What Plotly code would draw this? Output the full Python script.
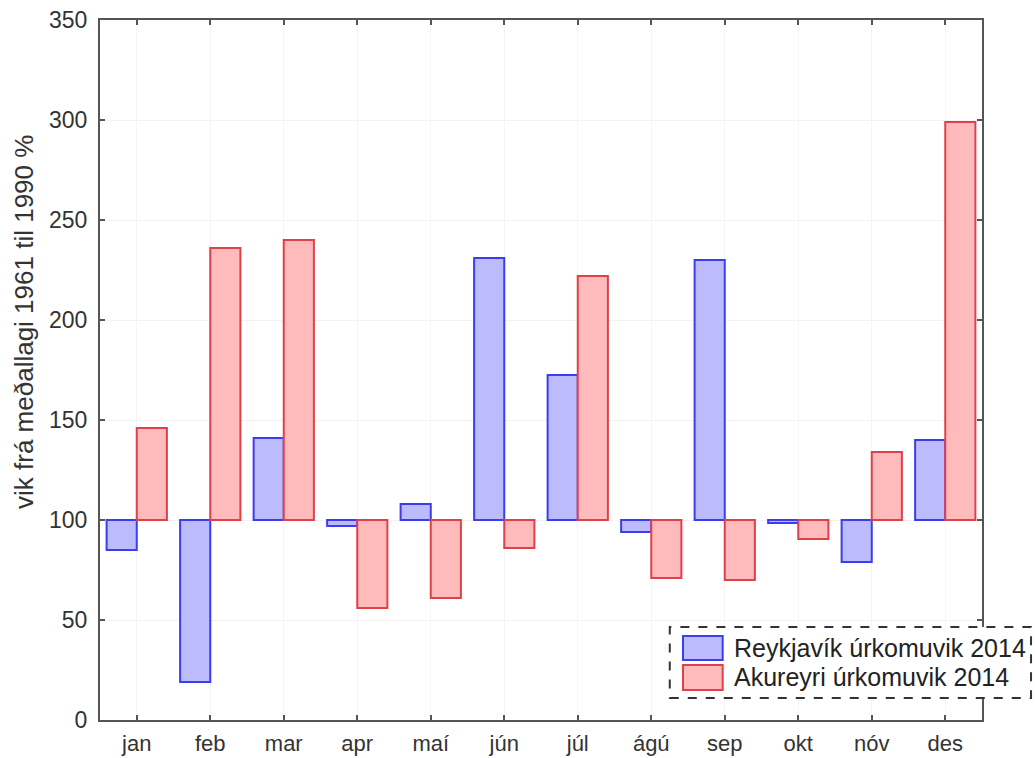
import plotly.graph_objects as go

months = ["jan", "feb", "mar", "apr", "maí", "jún", "júl", "ágú", "sep", "okt", "nóv", "des"]
reykjavik = [85, 19, 141, 97, 108, 231, 172.5, 94, 230, 98.5, 79, 140]
akureyri = [146, 236, 240, 56, 61, 86, 222, 71, 70, 90.5, 134, 299]
baseline = 100
name_rvk = "Reykjavík úrkomuvik 2014"
name_ak = "Akureyri úrkomuvik 2014"
y_title = "vik frá meðallagi 1961 til 1990 %"
y_ticks = [0, 50, 100, 150, 200, 250, 300, 350]

blue_fill = "rgba(188,188,252,1)"
blue_line = "#3c3cf0"
red_fill = "rgba(255,187,187,1)"
red_line = "#e0404a"

fig = go.Figure()
fig.add_trace(go.Bar(x=months, y=[v - baseline for v in reykjavik], base=baseline,
                     name=name_rvk, marker=dict(color=blue_fill, line=dict(color=blue_line, width=2))))
fig.add_trace(go.Bar(x=months, y=[v - baseline for v in akureyri], base=baseline,
                     name=name_ak, marker=dict(color=red_fill, line=dict(color=red_line, width=2))))

font_fam = "Liberation Sans, Arial, sans-serif"
fig.update_layout(
    width=1035, height=758,
    margin=dict(l=100, r=53, t=20, b=38),
    paper_bgcolor="white", plot_bgcolor="white",
    barmode="group", bargap=0.18, bargroupgap=0,
    showlegend=False,
    font=dict(family=font_fam, size=22, color="#333333"),
)
fig.update_xaxes(
    range=[-0.5, 11.5], showline=True, linecolor="#555555", linewidth=2, mirror="ticks",
    ticks="inside", ticklen=5, tickcolor="#555555", tickwidth=1.5,
    showgrid=True, gridcolor="#f5f5f5", gridwidth=1, automargin=False,
    tickfont=dict(size=22, color="#333333"), ticklabelstandoff=3,
)
fig.update_yaxes(
    range=[0, 350], tickvals=y_ticks, showline=True, linecolor="#555555", linewidth=2, mirror="ticks",
    ticks="inside", ticklen=5, tickcolor="#555555", tickwidth=1.5,
    showgrid=True, gridcolor="#f2f2f2", gridwidth=1, zeroline=False, automargin=False,
    tickfont=dict(size=23, color="#333333"), ticklabelstandoff=6,
)

# y-axis title placed as in the reference (shifted above the centre)
fig.add_annotation(xref="paper", yref="paper", x=-0.087, y=0.569, text=y_title, showarrow=False,
                   textangle=-90, xanchor="center", yanchor="middle",
                   font=dict(size=26, color="#333333"))

# legend box (dashed) drawn manually to match the reference styling
fig.add_shape(type="rect", xref="paper", yref="paper", x0=0.646, x1=1.0556, y0=0.0314, y1=0.1329,
              line=dict(color="#333333", width=2, dash="dash"), fillcolor="white", layer="above")
fig.add_shape(type="rect", xref="paper", yref="paper", x0=0.661, x1=0.706, y0=0.0857, y1=0.12,
              line=dict(color=blue_line, width=2), fillcolor=blue_fill, layer="above")
fig.add_shape(type="rect", xref="paper", yref="paper", x0=0.661, x1=0.706, y0=0.0429, y1=0.0786,
              line=dict(color=red_line, width=2), fillcolor=red_fill, layer="above")
fig.add_annotation(xref="paper", yref="paper", x=0.716, y=0.1029, text=name_rvk, showarrow=False,
                   xanchor="left", yanchor="middle", font=dict(size=25, color="#222222"))
fig.add_annotation(xref="paper", yref="paper", x=0.716, y=0.0614, text=name_ak, showarrow=False,
                   xanchor="left", yanchor="middle", font=dict(size=25, color="#222222"))

fig.write_html("out.html", config={"displayModeBar": False},
               post_script="document.body.style.margin='0';document.body.style.overflow='hidden';")
